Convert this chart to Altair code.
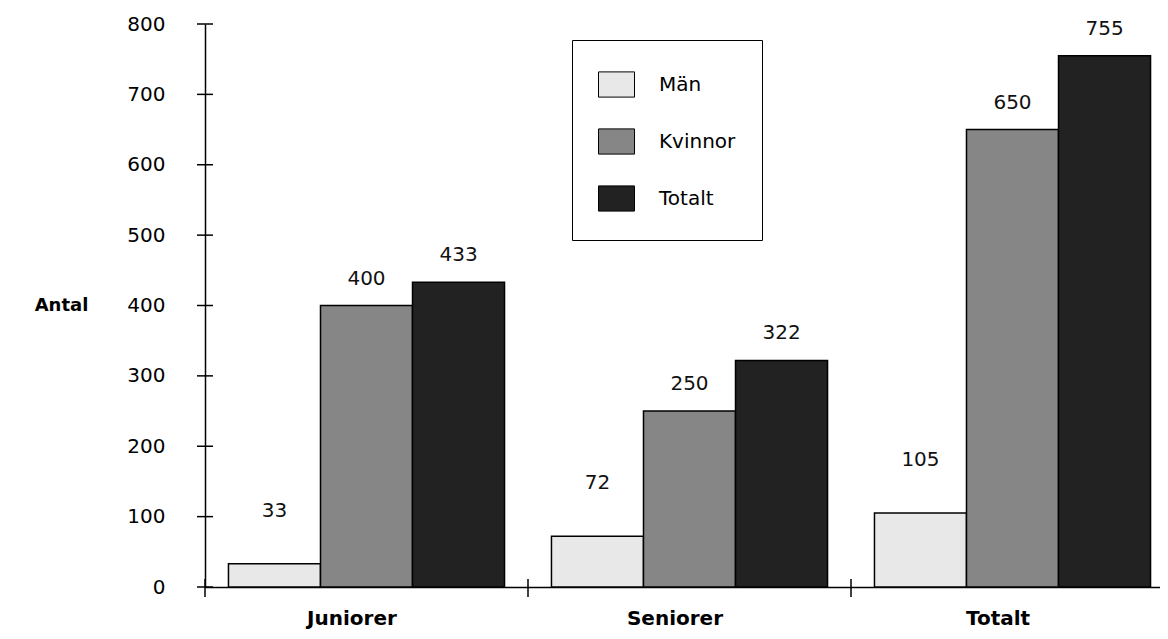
import altair as alt
import pandas as pd

# ---- data ----
grupper = ["Juniorer", "Seniorer", "Totalt"]
serier = ["Män", "Kvinnor", "Totalt"]
man = [33, 72, 105]
kvinnor = [400, 250, 650]
totalt = [433, 322, 755]
y_ticks = [0, 100, 200, 300, 400, 500, 600, 700, 800]
farger = ["#e8e8e8", "#868686", "#222222"]

rows = []
for i, g in enumerate(grupper):
    for s, vals in zip(serier, [man, kvinnor, totalt]):
        rows.append({"grupp": g, "serie": s, "antal": vals[i]})
df = pd.DataFrame(rows)
df_grupp = pd.DataFrame({"grupp": grupper})
df_yt = pd.DataFrame({"v": y_ticks})

FONT = "DejaVu Sans"
NUM_SIZE = 20

x_enc = alt.X(
    "grupp:N",
    sort=grupper,
    scale=alt.Scale(domain=grupper, range=[0, 969], paddingInner=0, paddingOuter=0),
    axis=alt.Axis(
        title=None,
        labelAngle=0,
        ticks=False,
        tickOffset=-15,
        labelPadding=37,
        labelBaseline="alphabetic",
        labelFont=FONT,
        labelFontSize=20,
        labelFontWeight="bold",
        labelColor="black",
        domainColor="black",
        domainWidth=1.5,
    ),
)
xoff_enc = alt.XOffset(
    "serie:N",
    sort=serier,
    scale=alt.Scale(domain=serier, paddingInner=0, paddingOuter=0.255),
)
y_scale = alt.Scale(domain=[0, 800], nice=False)
y_enc = alt.Y(
    "antal:Q",
    title="Antal",
    scale=y_scale,
    axis=alt.Axis(
        values=y_ticks,
        ticks=False,
        grid=False,
        labelPadding=40,
        labelFont=FONT,
        labelFontSize=NUM_SIZE,
        labelColor="black",
        domainColor="black",
        domainWidth=1.5,
        title="Antal",
        titleAngle=0,
        titleAlign="center",
        titleBaseline="middle",
        titleX=-144,
        titleY=281,
        titleFont=FONT,
        titleFontSize=18,
        titleFontWeight="bold",
        titleColor="black",
    ),
)

color_enc = alt.Color(
    "serie:N",
    sort=serier,
    scale=alt.Scale(domain=serier, range=farger),
    legend=alt.Legend(
        title=None,
        orient="none",
        legendX=367,
        legendY=16,
        symbolType="M-1,-0.7H1V0.7H-1Z",
        symbolSize=1296,
        symbolStrokeColor="black",
        symbolStrokeWidth=1,
        symbolOpacity=1,
        labelFont=FONT,
        labelFontSize=NUM_SIZE,
        labelColor="black",
        labelOffset=24,
        rowPadding=23,
        padding=26,
        strokeColor="black",
        fillColor="white",
    ),
)

bars = alt.Chart(df).mark_bar(stroke="black", strokeWidth=1.5, opacity=1).encode(
    x=x_enc, xOffset=xoff_enc, y=y_enc, color=color_enc
)

text_man = (
    alt.Chart(df)
    .transform_filter(alt.datum.serie == "Män")
    .mark_text(font=FONT, fontSize=NUM_SIZE, color="#111", baseline="middle", dy=-53)
    .encode(x=alt.X("grupp:N", sort=grupper), xOffset=alt.XOffset("serie:N", sort=serier),
            y=alt.Y("antal:Q", title="Antal"), text="antal:Q")
)
text_ovr = (
    alt.Chart(df)
    .transform_filter(alt.datum.serie != "Män")
    .mark_text(font=FONT, fontSize=NUM_SIZE, color="#111", baseline="middle", dy=-27)
    .encode(x=alt.X("grupp:N", sort=grupper), xOffset=alt.XOffset("serie:N", sort=serier),
            y=alt.Y("antal:Q", title="Antal"), text="antal:Q")
)

x_ticks = alt.Chart(df_grupp).mark_rule(color="black", strokeWidth=1.5).encode(
    x=alt.X("grupp:N", sort=grupper, bandPosition=0, title=None),
    y=alt.value(555),
    y2=alt.value(573),
)

y_tick_rules = alt.Chart(df_yt).mark_rule(color="black", strokeWidth=1.5).encode(
    y=alt.Y("v:Q", title="Antal"),
    x=alt.value(-8),
    x2=alt.value(8),
)

chart = (
    alt.layer(bars, text_man, text_ovr, x_ticks, y_tick_rules)
    .properties(
        width=955,
        height=563,
        autosize=alt.AutoSizeParams(type="none"),
        padding={"left": 197, "top": 16, "right": 0, "bottom": 44},
        background="white",
    )
    .configure_view(stroke=None)
)

chart.save("out.html", embed_options={"renderer": "svg", "actions": False})
